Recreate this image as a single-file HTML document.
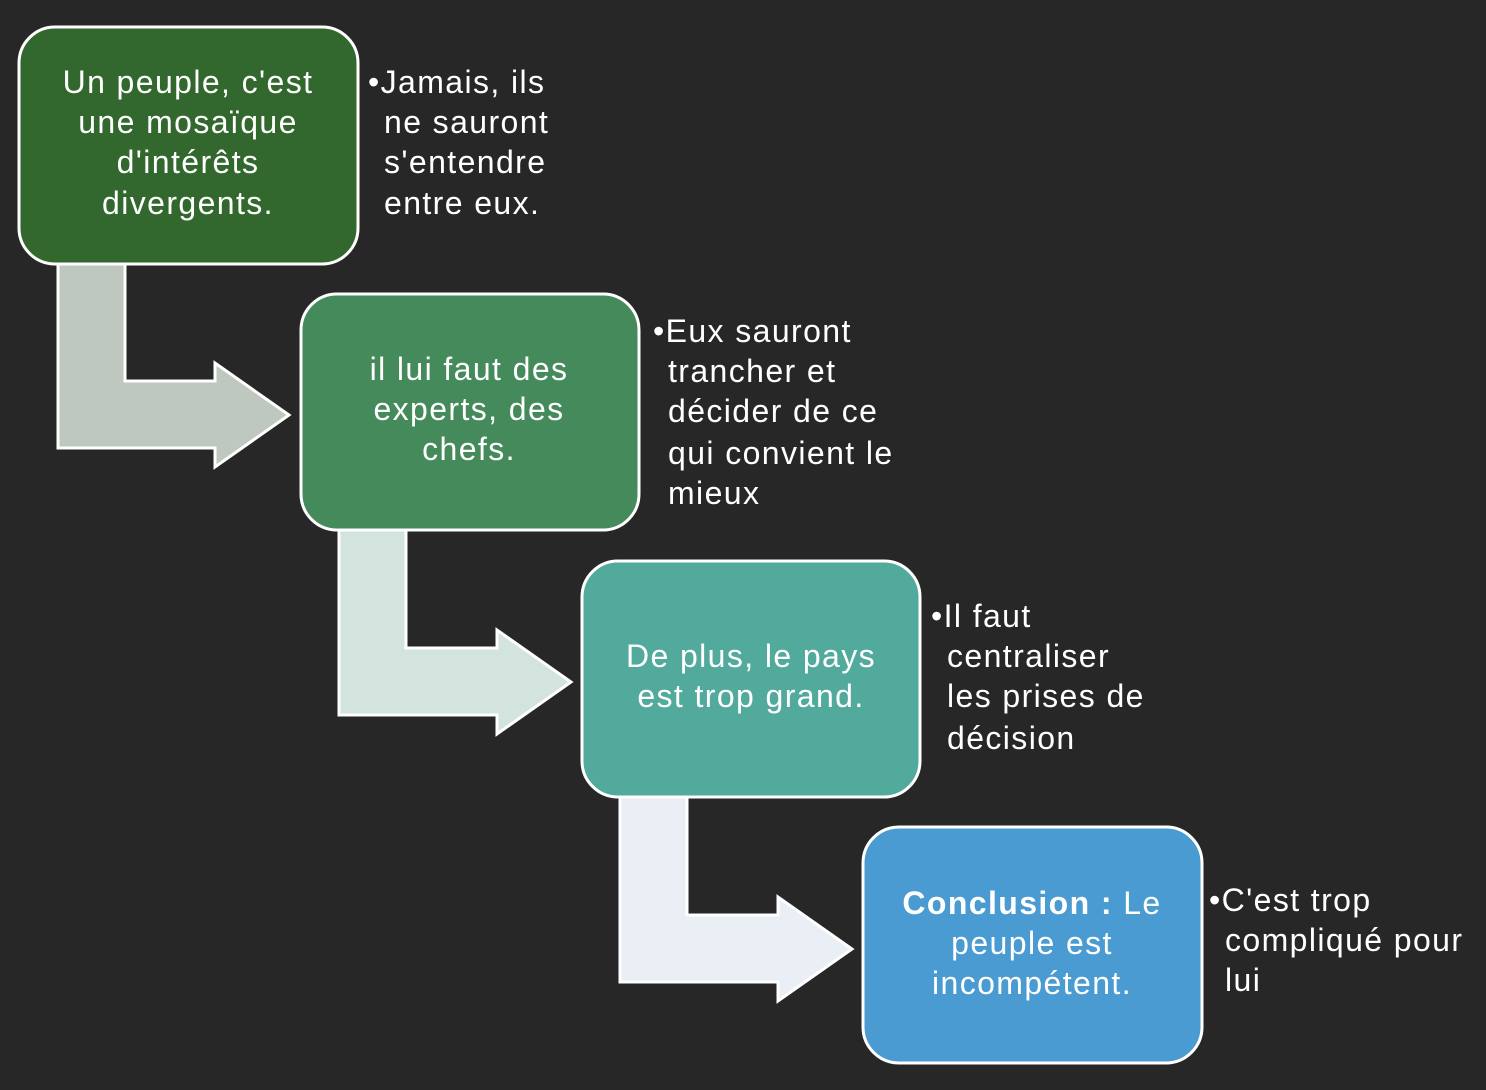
<!DOCTYPE html>
<html><head><meta charset="utf-8"><style>
html,body{margin:0;padding:0;background:#272727;}
svg{display:block}
text{font-family:"Liberation Sans",sans-serif;fill:#fff;font-size:32px;letter-spacing:1.4px;}
</style></head><body>
<svg width="1486" height="1090" viewBox="0 0 1486 1090">
<rect width="1486" height="1090" fill="#272727"/>
<g stroke="#fff" stroke-width="3" stroke-linejoin="miter">
<path d="M58,264 L125,264 L125,381 L215,381 L215,363 L289,415 L215,467 L215,448 L58,448 Z" fill="#bec8bf"/>
<path d="M339,530 L406,530 L406,648 L497,648 L497,630 L571,682 L497,734 L497,715 L339,715 Z" fill="#d3e4df"/>
<path d="M620,797 L687,797 L687,915 L778,915 L778,897 L852,949 L778,1001 L778,982 L620,982 Z" fill="#e9eff5"/>
<rect x="19" y="27" width="339" height="237" rx="36" fill="#32682d"/>
<rect x="301" y="294" width="338" height="236" rx="36" fill="#448a5a"/>
<rect x="582" y="561" width="338" height="236" rx="36" fill="#52aa9c"/>
<rect x="863" y="827" width="339" height="236" rx="36" fill="#4a9bd2"/>
</g>
<g text-anchor="middle">
<text x="188" y="93">Un peuple, c'est</text>
<text x="188" y="133">une mosaïque</text>
<text x="188" y="173">d'intérêts</text>
<text x="188" y="214">divergents.</text>
<text x="469" y="380">il lui faut des</text>
<text x="469" y="420">experts, des</text>
<text x="469" y="460">chefs.</text>
<text x="751" y="667">De plus, le pays</text>
<text x="751" y="707">est trop grand.</text>
<text x="1032" y="914"><tspan font-weight="bold">Conclusion :</tspan> Le</text>
<text x="1032" y="954">peuple est</text>
<text x="1032" y="994">incompétent.</text>
</g>
<text x="368" y="93">•Jamais, ils</text>
<text x="384" y="133">ne sauront</text>
<text x="384" y="173">s'entendre</text>
<text x="384" y="214">entre eux.</text>
<text x="653" y="342">•Eux sauront</text>
<text x="668" y="382">trancher et</text>
<text x="668" y="422">décider de ce</text>
<text x="668" y="464">qui convient le</text>
<text x="668" y="504">mieux</text>
<text x="931" y="627">•Il faut</text>
<text x="947" y="667">centraliser</text>
<text x="947" y="707">les prises de</text>
<text x="947" y="749">décision</text>
<text x="1209" y="911">•C'est trop</text>
<text x="1225" y="951">compliqué pour</text>
<text x="1225" y="991">lui</text>
</svg>
</body></html>
